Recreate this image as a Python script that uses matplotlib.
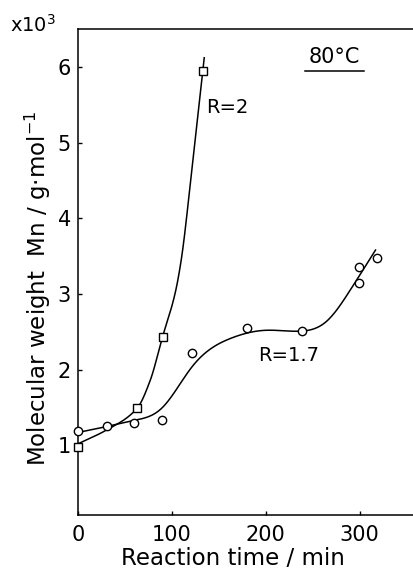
import numpy as np
import matplotlib
matplotlib.use('Agg')
import matplotlib.pyplot as plt

# measured points (time in min, Mn in 10^3 g/mol)
r2_time = [0, 63, 91, 133]
r2_mn = [0.98, 1.49, 2.43, 5.95]
r17_time = [0, 31, 60, 90, 121, 180, 239, 299, 299, 319]
r17_mn = [1.19, 1.25, 1.29, 1.33, 2.22, 2.55, 2.51, 3.35, 3.14, 3.47]

# hand-drawn trend curves
r2_curve_t = [0, 30, 63, 77, 90, 103.5, 110, 122.4, 134.5]
r2_curve_y = [1.02, 1.2, 1.49, 1.86, 2.43, 3.01, 3.45, 4.77, 6.12]
r17_curve_t = [0, 31, 60, 90, 121, 162, 200, 239, 265, 290, 317]
r17_curve_y = [1.17, 1.25, 1.33, 1.5, 2.03, 2.41, 2.52, 2.51, 2.64, 3.05, 3.58]


def pchip(xs, ys, n=400):
    # monotone cubic, keeps the steep R=2 branch from wiggling
    x = np.asarray(xs, float)
    y = np.asarray(ys, float)
    h = np.diff(x)
    d = np.diff(y) / h
    m = np.zeros_like(y)
    for k in range(1, len(x) - 1):
        if d[k - 1] * d[k] > 0:
            w1 = 2 * h[k] + h[k - 1]
            w2 = h[k] + 2 * h[k - 1]
            m[k] = (w1 + w2) / (w1 / d[k - 1] + w2 / d[k])
    m[0] = d[0]
    m[-1] = d[-1]
    xx = np.linspace(x[0], x[-1], n)
    j = np.clip(np.searchsorted(x, xx) - 1, 0, len(x) - 2)
    t = (xx - x[j]) / h[j]
    yy = ((2 * t ** 3 - 3 * t ** 2 + 1) * y[j]
          + (t ** 3 - 2 * t ** 2 + t) * h[j] * m[j]
          + (-2 * t ** 3 + 3 * t ** 2) * y[j + 1]
          + (t ** 3 - t ** 2) * h[j] * m[j + 1])
    return xx, yy


def spline(xs, ys, n=400):
    # natural cubic spline through the traced points
    x = np.asarray(xs, float)
    y = np.asarray(ys, float)
    k = len(x)
    h = np.diff(x)
    A = np.zeros((k, k))
    b = np.zeros(k)
    A[0, 0] = A[-1, -1] = 1
    for i in range(1, k - 1):
        A[i, i - 1] = h[i - 1]
        A[i, i] = 2 * (h[i - 1] + h[i])
        A[i, i + 1] = h[i]
        b[i] = 6 * ((y[i + 1] - y[i]) / h[i] - (y[i] - y[i - 1]) / h[i - 1])
    M = np.linalg.solve(A, b)
    xx = np.linspace(x[0], x[-1], n)
    j = np.clip(np.searchsorted(x, xx) - 1, 0, k - 2)
    a = x[j + 1] - xx
    c = xx - x[j]
    yy = (M[j] * a ** 3 / (6 * h[j]) + M[j + 1] * c ** 3 / (6 * h[j])
          + (y[j] / h[j] - M[j] * h[j] / 6) * a
          + (y[j + 1] / h[j] - M[j + 1] * h[j] / 6) * c)
    return xx, yy


plt.rcParams['font.family'] = 'DejaVu Sans'
fig = plt.figure(figsize=(4.14, 5.77), dpi=100)
ax = fig.add_axes([0.1884, 0.1075, 0.8116, 0.8422])

cx, cy = pchip(r2_curve_t, r2_curve_y)
ax.plot(cx, cy, color='black', lw=1.1, zorder=2)
cx, cy = spline(r17_curve_t, r17_curve_y)
ax.plot(cx, cy, color='black', lw=1.1, zorder=2)

ax.plot(r2_time, r2_mn, ls='none', marker='s', ms=5.5, mfc='white',
        mec='black', mew=1.0, zorder=3, clip_on=False)
ax.plot(r17_time, r17_mn, ls='none', marker='o', ms=6, mfc='white',
        mec='black', mew=1.0, zorder=3, clip_on=False)

ax.set_xlim(0, 358)
ax.set_ylim(0.08, 6.5)
ax.set_xticks([0, 100, 200, 300])
ax.set_yticks([1, 2, 3, 4, 5, 6])
ax.tick_params(direction='in', length=3, width=1, labelsize=15, pad=5)
ax.tick_params(axis='x', pad=7)
ax.spines['right'].set_visible(False)
for s in ['left', 'bottom', 'top']:
    ax.spines[s].set_linewidth(1.1)

ax.set_xlabel('Reaction time / min', fontsize=16.5, labelpad=4)
ax.xaxis.set_label_coords(0.46, -0.065)
fig.text(0.092, 0.50, 'Molecular weight  Mn / g·mol$^{-1}$', rotation=90,
         fontsize=16.5, ha='center', va='center')
fig.text(0.024, 0.945, 'x10$^3$', fontsize=14, ha='left', va='baseline')

ax.text(0.762, 0.93, '80°C', transform=ax.transAxes, fontsize=15,
        ha='center', va='baseline')
ax.plot([0.675, 0.85], [0.9136, 0.9136], transform=ax.transAxes,
        color='black', lw=1.1)
ax.text(137, 5.46, 'R=2', fontsize=14, ha='left', va='center')
ax.text(192, 2.19, 'R=1.7', fontsize=14, ha='left', va='center')

fig.savefig('out.png', dpi=100)
